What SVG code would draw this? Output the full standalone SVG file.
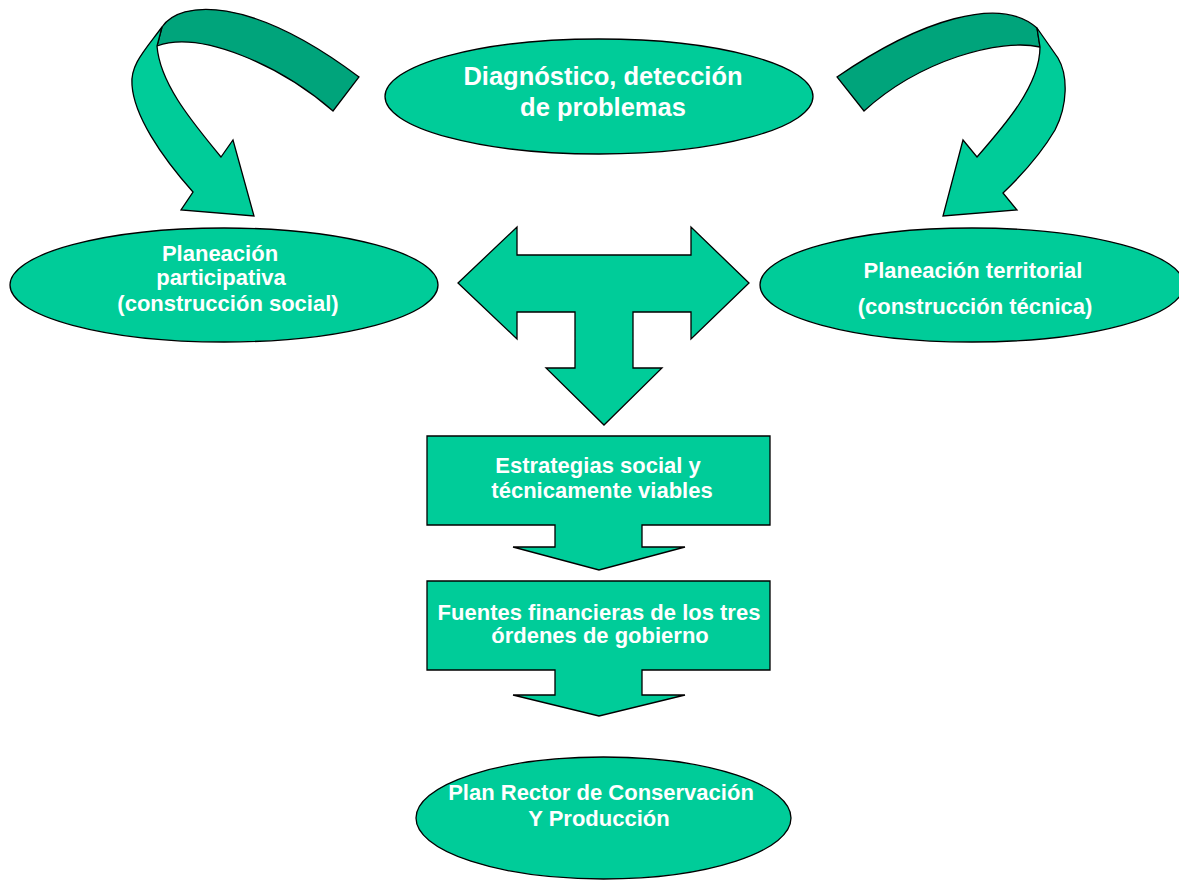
<svg xmlns="http://www.w3.org/2000/svg" width="1179" height="880" viewBox="0 0 1179 880">
<style>
.shape{fill:#00CC99;stroke:#000;stroke-width:1.3;stroke-linejoin:miter}
.dark{fill:#00A47B;stroke:#000;stroke-width:1.3}
.lbl{fill:#fff;font-family:"Liberation Sans",Arial,sans-serif;font-weight:bold;text-anchor:middle}
.s22{font-size:25.5px}
.s18{font-size:22px}
</style>
<rect width="1179" height="880" fill="#fff"/>
<g id="connectors">
  <g id="curve-left">
    <path class="dark" d="M162,27 C180,0 250,-5 359,77 L333,111 C280,65 200,30 157,46 Z"/>
    <path class="shape" d="M162,27 C145,50 130,65 132,85 C134,115 160,155 193,192 L181,210 L254,216 L233,140 L221,157 C195,125 160,85 157,46 Z"/>
  </g>
  <g id="curve-right">
    <path class="dark" d="M837,77 C920,20 1000,-5 1037,28 L1040,47 C1000,38 920,60 864,111 Z"/>
    <path class="shape" d="M1037,28 L1058,58 C1068,75 1068,105 1055,130 C1042,152 1025,172 1003,193 L1017,210 L943,216 L963,140 L977,157 C1005,125 1040,85 1040,47 Z"/>
  </g>
  <path id="t-arrow" class="shape" d="M458,283 L517,227 L517,255 L691,255 L691,227 L749,283 L691,339 L691,312 L633,312 L633,368 L662,368 L604,425 L546,368 L575,368 L575,312 L517,312 L517,339 Z"/>
</g>
<g id="diagnostico">
  <ellipse class="shape" cx="599" cy="96.5" rx="214" ry="57.5"/>
  <text class="lbl s22" x="603" y="85">Diagnóstico, detección</text>
  <text class="lbl s22" x="603" y="116">de problemas</text>
</g>
<g id="participativa">
  <ellipse class="shape" cx="224" cy="285" rx="214" ry="57"/>
  <text class="lbl s18" x="220" y="261">Planeación</text>
  <text class="lbl s18" x="221" y="285">participativa</text>
  <text class="lbl s18" x="228" y="311">(construcción social)</text>
</g>
<g id="territorial">
  <ellipse class="shape" cx="972" cy="285" rx="212" ry="57"/>
  <text class="lbl s18" x="973" y="278">Planeación territorial</text>
  <text class="lbl s18" x="975" y="314">(construcción técnica)</text>
</g>
<g id="estrategias">
  <path class="shape" d="M427,436 L770,436 L770,525 L642,525 L642,547 L685,547 L599,570 L513,547 L555,547 L555,525 L427,525 Z"/>
  <text class="lbl s18" x="598" y="473">Estrategias social y</text>
  <text class="lbl s18" x="602" y="498">técnicamente viables</text>
</g>
<g id="fuentes">
  <path class="shape" d="M427,581 L770,581 L770,670 L642,670 L642,695 L685,695 L599,716 L513,695 L555,695 L555,670 L427,670 Z"/>
  <text class="lbl s18" x="599" y="620">Fuentes financieras de los tres</text>
  <text class="lbl s18" x="600" y="643">órdenes de gobierno</text>
</g>
<g id="plan-rector">
  <ellipse class="shape" cx="603.5" cy="818" rx="187.5" ry="61"/>
  <text class="lbl s18" x="601" y="800">Plan Rector de Conservación</text>
  <text class="lbl s18" x="599" y="826">Y Producción</text>
</g>
</svg>
